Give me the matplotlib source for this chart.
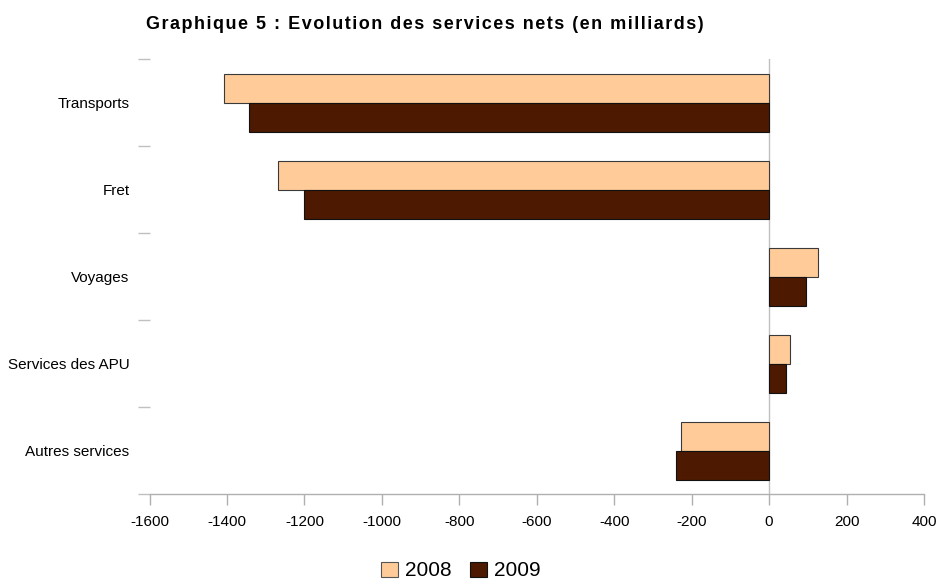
import matplotlib
matplotlib.use("Agg")
import matplotlib.pyplot as plt
from matplotlib.patches import Patch
import numpy as np

plt.rcParams['font.family'] = ['Liberation Sans', 'DejaVu Sans']

# services nets, en milliards
categories = ["Transports", "Fret", "Voyages", "Services des APU", "Autres services"]
val_2008 = [-1407, -1269, 127, 54, -228]
val_2009 = [-1344, -1200, 94, 43, -241]
years = ["2008", "2009"]
colors = ["#FFCC99", "#4D1900"]
xticks = list(range(-1600, 401, 200))
title = "Graphique 5 : Evolution des services nets (en milliards)"

fig = plt.figure(figsize=(9.39, 5.85), dpi=100)
ax = fig.add_axes([149.6 / 939, 1 - 494 / 585, (924 - 149.6) / 939, (494 - 59) / 585])

y = np.arange(len(categories))
h = 1 / 3
ax.barh(y - h / 2, val_2008, height=h, color=colors[0], edgecolor="#3a3a3a", linewidth=0.8, zorder=3)
ax.barh(y + h / 2, val_2009, height=h, color=colors[1], edgecolor="#111111", linewidth=0.8, zorder=3)

ax.axvline(0, color="#c0c0c0", linewidth=1, zorder=2)

ax.set_xlim(-1600, 400)
ax.set_ylim(len(categories) - 0.5, -0.5)

ax.set_xticks(xticks)
ax.set_xticklabels([str(t) for t in xticks], fontsize=11)
ax.tick_params(axis="x", direction="out", length=8, width=1, color="#b0b0b0", pad=7)

# category boundaries carry the ticks, names sit between them
ax.set_yticks(np.arange(-0.5, len(categories), 1.0))
ax.set_yticklabels([])
ax.set_yticks(y, minor=True)
ax.set_yticklabels(categories, minor=True, fontsize=11)
ax.tick_params(axis="y", which="major", direction="out", length=8.6, width=1, color="#c0c0c0")
ax.tick_params(axis="y", which="minor", length=0, pad=14.5)

for side in ["top", "right", "left"]:
    ax.spines[side].set_visible(False)
ax.spines["bottom"].set_color("#b0b0b0")
ax.spines["bottom"].set_linewidth(1)

# wide letter spacing in the heading
spaced_title = "\u200a".join(title)
fig.text(424.5 / 939, 1 - 29 / 585, spaced_title,
         ha="center", va="baseline", fontsize=13, fontweight="bold")

handles = [Patch(facecolor=colors[0], edgecolor="#555555", linewidth=0.8),
           Patch(facecolor=colors[1], edgecolor="#111111", linewidth=0.8)]
fig.legend(handles, years, loc="center", bbox_to_anchor=(461 / 939, 1 - 571 / 585), ncol=2,
           frameon=False, fontsize=15, handlelength=0.8, handleheight=0.76,
           handletextpad=0.35, columnspacing=0.9, borderpad=0)

fig.savefig("out.png", dpi=100)
